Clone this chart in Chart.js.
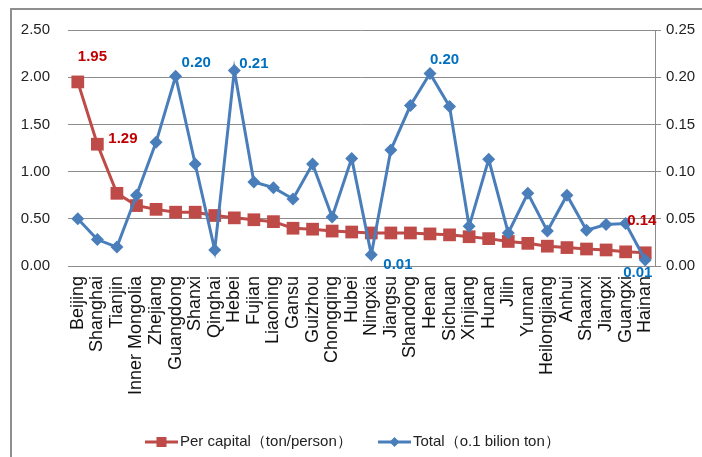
<!DOCTYPE html>
<html>
<head>
<meta charset="utf-8">
<script src="https://cdn.jsdelivr.net/npm/chart.js@4.4.0/dist/chart.umd.min.js"></script>
<style>
  html, body { margin: 0; padding: 0; background: #fff; }
  #wrap { width: 702px; height: 457px; }
</style>
</head>
<body>
<div id="wrap"><canvas id="myChart" width="702" height="457"></canvas></div>
<script>
// provinces
var provinces = ['Beijing', 'Shanghai', 'Tianjin', 'Inner Mongolia', 'Zhejiang', 'Guangdong', 'Shanxi',
    'Qinghai', 'Hebei', 'Fujian', 'Liaoning', 'Gansu', 'Guizhou', 'Chongqing', 'Hubei', 'Ningxia',
    'Jiangsu', 'Shandong', 'Henan', 'Sichuan', 'Xinjiang', 'Hunan', 'Jilin', 'Yunnan', 'Heilongjiang',
    'Anhui', 'Shaanxi', 'Jiangxi', 'Guangxi', 'Hainan'];

// ton/person (left axis)
var perCapita = [1.95, 1.29, 0.77, 0.64, 0.60, 0.57, 0.57, 0.535, 0.51, 0.49, 0.47, 0.40, 0.39, 0.37,
    0.36, 0.35, 0.35, 0.35, 0.34, 0.33, 0.31, 0.29, 0.26, 0.24, 0.21, 0.195, 0.18, 0.17, 0.15, 0.14];

// 0.1 billion ton (right axis)
var total = [0.050, 0.028, 0.020, 0.075, 0.131, 0.201, 0.108, 0.017, 0.207, 0.089, 0.083, 0.071, 0.108,
    0.052, 0.114, 0.012, 0.123, 0.170, 0.204, 0.169, 0.042, 0.113, 0.035, 0.077, 0.037, 0.075, 0.038,
    0.044, 0.045, 0.0064];

var leftTicks = [0, 0.5, 1.0, 1.5, 2.0, 2.5];
var rightTicks = [0, 0.05, 0.10, 0.15, 0.20, 0.25];

var seriesNames = ['Per capital（ton/person）', 'Total（o.1 bilion ton）'];

var RED = '#BE4B48';
var BLUE = '#4A7EBB';
var FONT = "'Liberation Sans', Arial, sans-serif";

// labelled points: which dataset, which index, and where the text sits
var pointLabels = [
    { ds: 0, i: 0, dx: 0, dy: -25, color: '#C00000' },
    { ds: 0, i: 1, dx: 11, dy: -5, color: '#C00000' },
    { ds: 0, i: 29, dx: -18, dy: -32, color: '#C00000' },
    { ds: 1, i: 5, dx: 6, dy: -13, color: '#0070C0' },
    { ds: 1, i: 8, dx: 5, dy: -7, color: '#0070C0' },
    { ds: 1, i: 18, dx: 0, dy: -14, color: '#0070C0' },
    { ds: 1, i: 15, dx: 12, dy: 10, color: '#0070C0' },
    { ds: 1, i: 29, dx: -22, dy: 13, color: '#0070C0' }
];

// frame round the chart (only top and left show)
var framePlugin = {
    id: 'frame',
    beforeDraw: function (chart) {
        var ctx = chart.ctx;
        ctx.save();
        ctx.strokeStyle = '#8f8f8f';
        ctx.lineWidth = 2;
        ctx.beginPath();
        ctx.moveTo(11, 457);
        ctx.lineTo(11, 9);
        ctx.lineTo(702, 9);
        ctx.stroke();
        ctx.restore();
    }
};

var labelPlugin = {
    id: 'pointLabels',
    afterDatasetsDraw: function (chart) {
        var ctx = chart.ctx;
        ctx.save();
        ctx.font = 'bold 15px ' + FONT;
        ctx.textAlign = 'left';
        ctx.textBaseline = 'middle';
        pointLabels.forEach(function (l) {
            var el = chart.getDatasetMeta(l.ds).data[l.i];
            var v = chart.data.datasets[l.ds].data[l.i];
            ctx.fillStyle = l.color;
            ctx.fillText(v.toFixed(2), el.x + l.dx, el.y + l.dy);
        });
        ctx.restore();
    }
};

// legend drawn like excel: line with marker in the middle
var legendPlugin = {
    id: 'excelLegend',
    afterDraw: function (chart) {
        var ctx = chart.ctx;
        var y = 442;
        var starts = [145, 378];
        ctx.save();
        ctx.font = '15px ' + FONT;
        ctx.textBaseline = 'middle';
        chart.data.datasets.forEach(function (ds, k) {
            var x = starts[k];
            ctx.strokeStyle = ds.borderColor;
            ctx.lineWidth = 3;
            ctx.beginPath();
            ctx.moveTo(x, y);
            ctx.lineTo(x + 33, y);
            ctx.stroke();
            ctx.fillStyle = ds.borderColor;
            var cx = x + 16.5;
            if (ds.pointStyle === 'rect') {
                ctx.fillRect(cx - 5, y - 5, 10, 10);
            } else {
                ctx.beginPath();
                ctx.moveTo(cx, y - 5);
                ctx.lineTo(cx + 5, y);
                ctx.lineTo(cx, y + 5);
                ctx.lineTo(cx - 5, y);
                ctx.closePath();
                ctx.fill();
            }
            ctx.fillStyle = '#222';
            ctx.fillText(ds.label, x + 35, y);
        });
        ctx.restore();
    }
};

var ctx = document.getElementById('myChart').getContext('2d');
var chart = new Chart(ctx, {
    type: 'line',
    data: {
        labels: provinces,
        datasets: [{
            label: seriesNames[0],
            data: perCapita,
            yAxisID: 'y',
            borderColor: RED,
            backgroundColor: RED,
            borderWidth: 3,
            pointStyle: 'rect',
            pointRadius: 9,
            pointBorderWidth: 0,
            tension: 0,
            order: 1
        }, {
            label: seriesNames[1],
            data: total,
            yAxisID: 'y1',
            borderColor: BLUE,
            backgroundColor: BLUE,
            borderWidth: 3,
            pointStyle: 'rectRot',
            pointRadius: 6.5,
            pointBorderWidth: 0,
            tension: 0,
            order: 0
        }]
    },
    options: {
        responsive: false,
        animation: false,
        devicePixelRatio: 1,
        layout: { padding: { top: 30, left: 0, right: 0, bottom: 0 } },
        plugins: {
            legend: { display: false },
            tooltip: { enabled: false }
        },
        scales: {
            x: {
                offset: true,
                grid: { display: false, drawTicks: false },
                border: { display: false },
                ticks: {
                    autoSkip: false,
                    minRotation: 90,
                    maxRotation: 90,
                    padding: 10,
                    color: '#111',
                    font: { family: FONT, size: 18 }
                },
                afterFit: function (s) { s.height = 191; }
            },
            y: {
                position: 'left',
                min: 0,
                max: 2.5,
                afterBuildTicks: function (s) { s.ticks = leftTicks.map(function (v) { return { value: v }; }); },
                grid: { color: '#8c8c8c', lineWidth: 1, drawTicks: false },
                border: { display: false },
                ticks: {
                    padding: 18,
                    color: '#222',
                    font: { family: FONT, size: 15 },
                    callback: function (v) { return v.toFixed(2); }
                },
                afterFit: function (s) { s.width = 68; }
            },
            y1: {
                position: 'right',
                min: 0,
                max: 0.25,
                afterBuildTicks: function (s) { s.ticks = rightTicks.map(function (v) { return { value: v }; }); },
                grid: { drawOnChartArea: false, drawTicks: true, tickLength: 6, color: '#8c8c8c' },
                border: { display: true, color: '#8c8c8c', width: 1 },
                ticks: {
                    padding: 5,
                    color: '#222',
                    font: { family: FONT, size: 15 },
                    callback: function (v) { return v.toFixed(2); }
                },
                afterFit: function (s) { s.width = 47; }
            }
        }
    },
    plugins: [framePlugin, labelPlugin, legendPlugin]
});
</script>
</body>
</html>
